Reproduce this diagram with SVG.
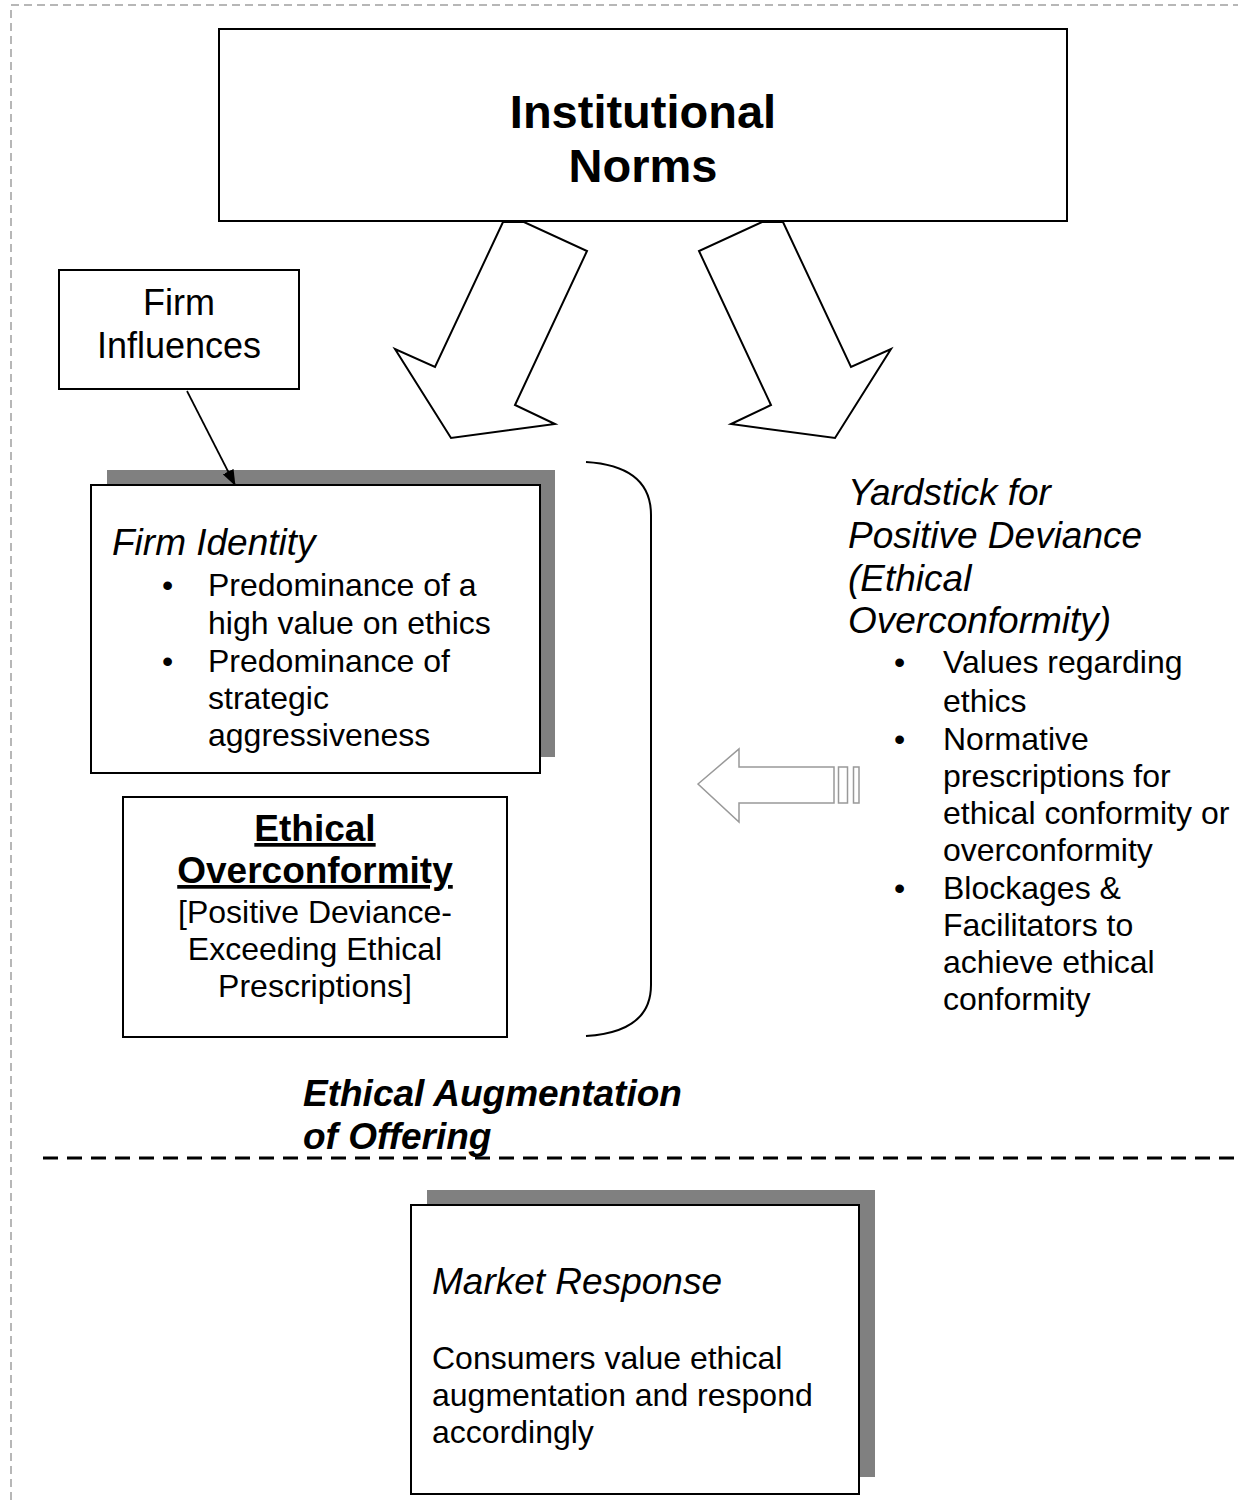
<svg xmlns="http://www.w3.org/2000/svg" width="1238" height="1500" viewBox="0 0 1238 1500">
<style>
text{font-family:"Liberation Sans",Arial,sans-serif;fill:#000}
.box{fill:#fff;stroke:#000;stroke-width:2}
.shadow{fill:#808080}
.h{font-size:37px;font-style:italic}
.b{font-size:32px}
.outline{fill:#fff;stroke:#000;stroke-width:2;stroke-linejoin:miter}
</style>
<defs>
<marker id="ah" markerWidth="16" markerHeight="12" refX="15" refY="6" orient="auto" markerUnits="userSpaceOnUse" viewBox="0 0 16 12">
<path d="M0,0 L16,6 L0,12 z" fill="#000"/>
</marker>
</defs>
<rect width="1238" height="1500" fill="#fff"/>
<path d="M11,1500 L11,5 L1238,5" fill="none" stroke="#a0a0a0" stroke-width="1.5" stroke-dasharray="8 5"/>

<g id="institutional-norms">
<rect class="box" x="219" y="29" width="848" height="192"/>
<text x="643" y="128" text-anchor="middle" font-size="47" font-weight="bold">Institutional</text>
<text x="643" y="182" text-anchor="middle" font-size="47" font-weight="bold">Norms</text>
</g>

<g id="firm-influences">
<rect class="box" x="59" y="270" width="240" height="119"/>
<text x="179" y="315" text-anchor="middle" font-size="36">Firm</text>
<text x="179" y="358" text-anchor="middle" font-size="36">Influences</text>
</g>

<g id="firm-identity">
<rect class="shadow" x="107" y="470" width="448" height="287"/>
<rect class="box" x="91" y="485" width="449" height="288"/>
<text class="h" x="112" y="555">Firm Identity</text>
<text class="b" x="162" y="596">•</text>
<text class="b" x="208" y="596">Predominance of a</text>
<text class="b" x="208" y="634">high value on ethics</text>
<text class="b" x="162" y="672">•</text>
<text class="b" x="208" y="672">Predominance of</text>
<text class="b" x="208" y="709">strategic</text>
<text class="b" x="208" y="746">aggressiveness</text>
</g>

<g id="ethical-overconformity">
<rect class="box" x="123" y="797" width="384" height="240"/>
<text x="315" y="841" text-anchor="middle" font-size="37" font-weight="bold" text-decoration="underline">Ethical</text>
<text x="315" y="883" text-anchor="middle" font-size="37" font-weight="bold" text-decoration="underline">Overconformity</text>
<text class="b" x="315" y="923" text-anchor="middle">[Positive Deviance-</text>
<text class="b" x="315" y="960" text-anchor="middle">Exceeding Ethical</text>
<text class="b" x="315" y="997" text-anchor="middle">Prescriptions]</text>
</g>

<g id="bracket">
<path d="M586,462 Q651,466 651,515 L651,985 Q651,1032 586,1036" fill="none" stroke="#000" stroke-width="2"/>
</g>

<g id="yardstick">
<text class="h" x="848" y="505">Yardstick for</text>
<text class="h" x="848" y="548">Positive Deviance</text>
<text class="h" x="848" y="591">(Ethical</text>
<text class="h" x="848" y="633">Overconformity)</text>
<text class="b" x="894" y="673">•</text>
<text class="b" x="943" y="673">Values regarding</text>
<text class="b" x="943" y="712">ethics</text>
<text class="b" x="894" y="750">•</text>
<text class="b" x="943" y="750">Normative</text>
<text class="b" x="943" y="787">prescriptions for</text>
<text class="b" x="943" y="824">ethical conformity or</text>
<text class="b" x="943" y="861">overconformity</text>
<text class="b" x="894" y="899">•</text>
<text class="b" x="943" y="899">Blockages &amp;</text>
<text class="b" x="943" y="936">Facilitators to</text>
<text class="b" x="943" y="973">achieve ethical</text>
<text class="b" x="943" y="1010">conformity</text>
</g>

<g id="ethical-augmentation">
<text x="303" y="1106" font-size="37" font-weight="bold" font-style="italic">Ethical Augmentation</text>
<text x="303" y="1149" font-size="37" font-weight="bold" font-style="italic">of Offering</text>
</g>

<g id="market-response">
<rect class="shadow" x="427" y="1190" width="448" height="287"/>
<rect class="box" x="411" y="1205" width="448" height="289"/>
<text class="h" x="432" y="1294">Market Response</text>
<text class="b" x="432" y="1369">Consumers value ethical</text>
<text class="b" x="432" y="1406">augmentation and respond</text>
<text class="b" x="432" y="1443">accordingly</text>
</g>

<g id="connectors">
<polygon class="outline" points="503,222 524,222 587,251 515,405 555,424 451,438 395,349 435,367"/>
<polygon class="outline" points="783,222 762,222 699,251 771,405 731,424 835,438 891,349 851,367"/>
<line x1="187" y1="391" x2="235" y2="485" stroke="#000" stroke-width="1.7" marker-end="url(#ah)"/>
<g fill="#fff" stroke="#999" stroke-width="1.5">
<polygon points="698,784 739,749 739,767 834,767 834,803 739,803 739,822"/>
<rect x="838.5" y="767" width="9" height="36"/>
<rect x="853.5" y="767" width="5.5" height="36"/>
</g>
<line x1="43" y1="1158" x2="1238" y2="1158" stroke="#000" stroke-width="3" stroke-dasharray="15 9"/>
</g>
</svg>
